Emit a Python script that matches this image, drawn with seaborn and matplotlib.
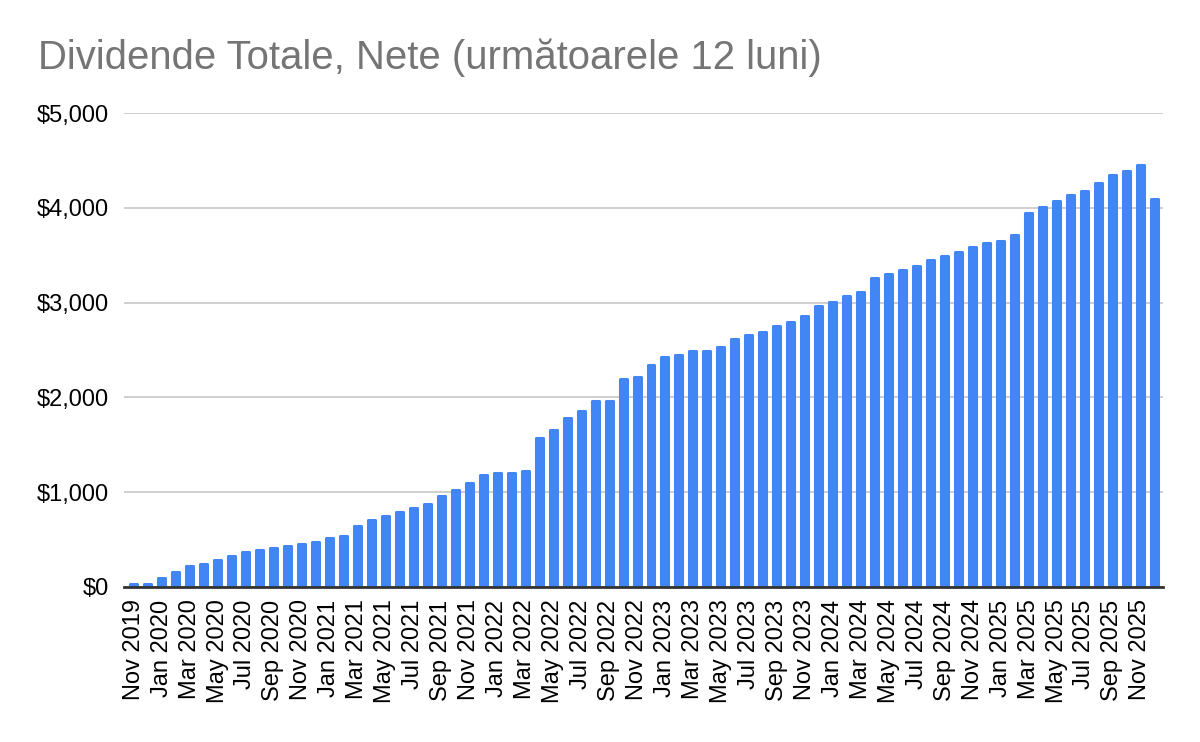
import pandas as pd
import seaborn as sns
import matplotlib.pyplot as plt
from matplotlib.ticker import FuncFormatter

# months (one bar per month, Nov 2019 .. Dec 2025)
months = pd.date_range("2019-11-01", periods=74, freq="MS").strftime("%b %Y").tolist()

# trailing 12 month net dividends, USD
dividends = [
    28, 28, 92, 156, 220, 241, 284, 326, 369, 390,
    411, 433, 454, 475, 518, 539, 645, 709, 752, 794,
    837, 879, 965, 1028, 1092, 1177, 1199, 1199, 1220, 1569,
    1653, 1778, 1861, 1965, 1965, 2194, 2215, 2340, 2424, 2444,
    2486, 2486, 2528, 2611, 2653, 2694, 2757, 2799, 2861, 2965,
    3007, 3069, 3111, 3262, 3305, 3348, 3390, 3454, 3496, 3539,
    3582, 3624, 3645, 3709, 3943, 4007, 4071, 4135, 4177, 4262,
    4348, 4390, 4454, 4092,
]

yticks = [0, 1000, 2000, 3000, 4000, 5000]

df = pd.DataFrame({"Month": months, "Dividends": dividends})

sns.set_style("white")
plt.rcParams["font.family"] = ["Liberation Sans", "DejaVu Sans"]

fig = plt.figure(figsize=(12, 7.42), dpi=100)
ax = fig.add_axes([0.1033, 0.2089, 0.8657, 0.6388])

sns.barplot(x="Month", y="Dividends", data=df, color="#4285f4",
            saturation=1, width=0.5, ax=ax)
# slightly rounded tops
for p in ax.patches:
    p.set_edgecolor("#4285f4")
    p.set_linewidth(2.2)
    p.set_joinstyle("round")

ax.set_xlim(-0.69, 73.6)
ax.set_ylim(0, 5000)
ax.set_yticks(yticks)
ax.yaxis.set_major_formatter(FuncFormatter(lambda v, _: f"${v:,.0f}"))
ax.set_xticks(range(0, len(months), 2))
ax.set_xticklabels(months[::2], rotation=90)
ax.tick_params(axis="y", length=0, pad=11, labelsize=17, colors="black")
ax.tick_params(axis="x", length=0, pad=9, labelsize=17, colors="black")
ax.set_xlabel("")
ax.set_ylabel("")

ax.grid(axis="y", color="#cccccc", linewidth=1.3)
ax.set_axisbelow(True)
for s in ["top", "right", "left"]:
    ax.spines[s].set_visible(False)
ax.spines["bottom"].set_color("#333333")
ax.spines["bottom"].set_linewidth(2)
ax.spines["bottom"].set_zorder(5)

fig.text(0.032, 0.907, "Dividende Totale, Nete (următoarele 12 luni)",
         fontsize=28.9, color="#757575", ha="left", va="baseline")

fig.savefig("out.png", dpi=100)
